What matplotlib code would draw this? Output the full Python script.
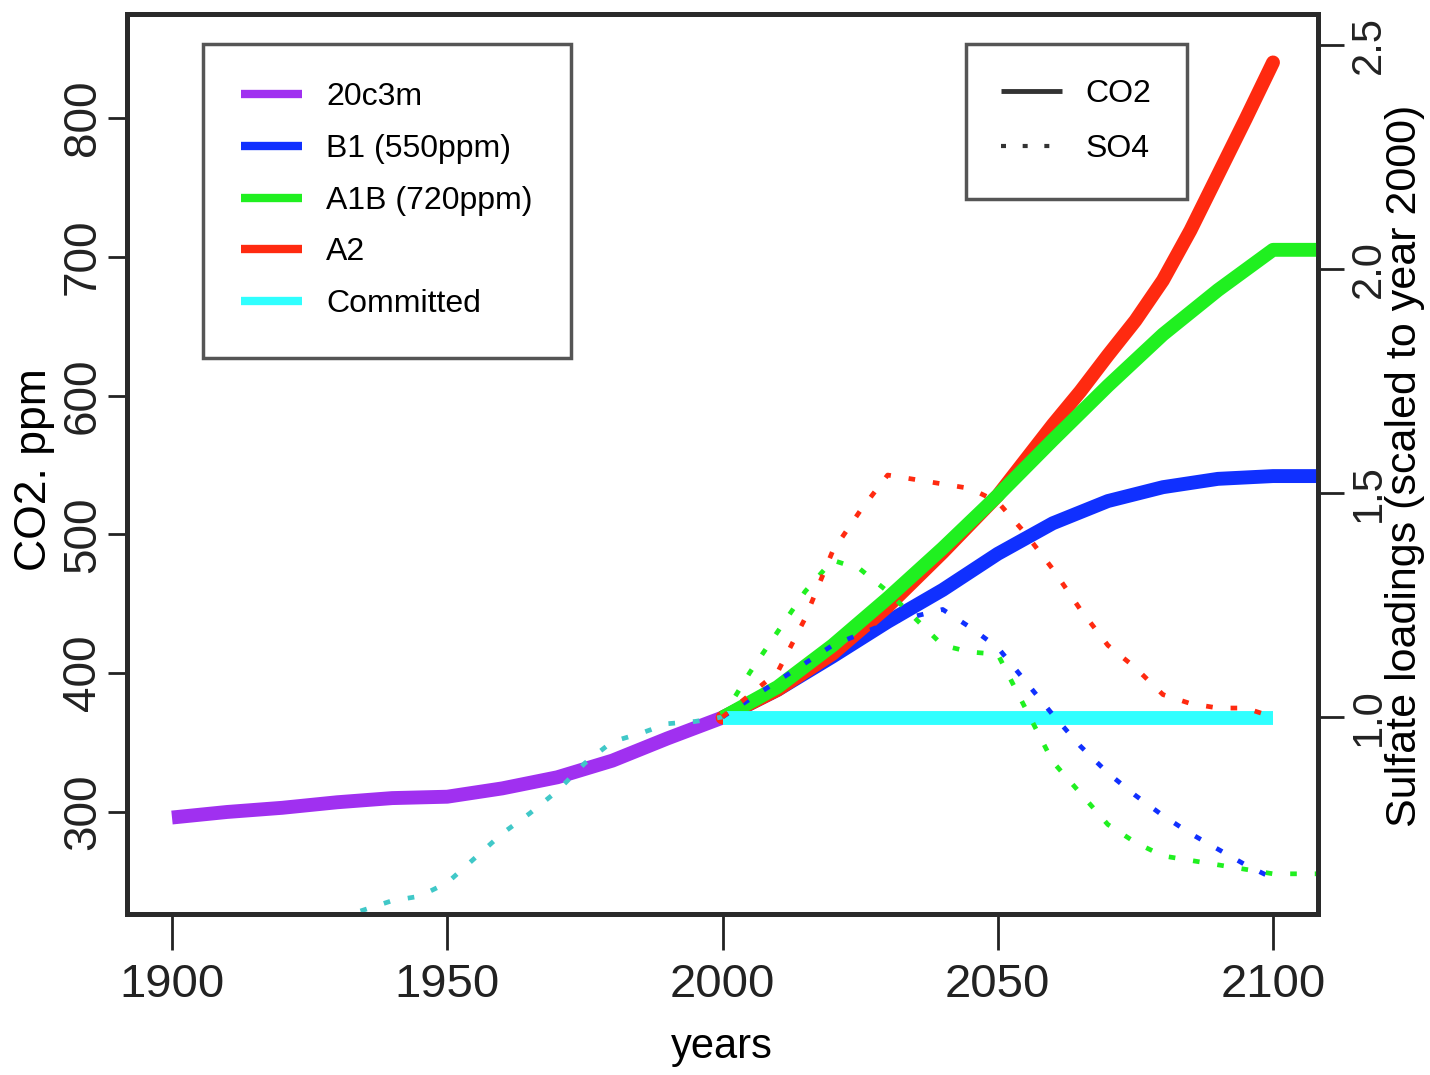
import matplotlib
matplotlib.use("Agg")
import matplotlib.pyplot as plt
from matplotlib.lines import Line2D

plt.rcParams['font.family'] = ['Liberation Sans', 'DejaVu Sans']

# ---------------- data ----------------
years_20c = [1900, 1910, 1920, 1930, 1940, 1950, 1960, 1970, 1980, 1990, 2000]
co2_20c3m = [296, 300, 303, 307, 310, 311, 317, 325, 337, 353, 368]

years_scen = [2000, 2010, 2020, 2030, 2040, 2050, 2060, 2070, 2080, 2090, 2100, 2110]
co2_b1 = [368, 388, 412, 437, 460, 486, 508, 524, 534, 540, 542, 542]
co2_a1b = [368, 390, 420, 454, 490, 528, 568, 607, 644, 676, 705, 705]
years_a2 = [2000, 2010, 2020, 2030, 2040, 2050, 2060, 2065, 2070, 2075, 2080,
            2085, 2090, 2095, 2100]
co2_a2 = [368, 388, 414, 448, 487, 528, 579, 603, 629, 654, 683, 719, 759, 799, 840]
years_comm = [2000, 2100]
co2_comm = [368, 368]

years_so4_20c = [1930, 1935, 1940, 1945, 1950, 1955, 1960, 1965, 1970, 1975,
                 1980, 1985, 1990, 1995, 2000]
so4_20c3m = [0.55, 0.57, 0.59, 0.60, 0.63, 0.685, 0.74, 0.785, 0.835, 0.897,
             0.945, 0.963, 0.985, 0.99, 1.0]

years_so4_a2 = [2000, 2005, 2010, 2015, 2020, 2025, 2030, 2035, 2040, 2045, 2050,
                2055, 2060, 2065, 2070, 2075, 2080, 2085, 2090, 2095, 2100]
so4_a2 = [1.0, 1.05, 1.10, 1.22, 1.37, 1.46, 1.54, 1.53, 1.52, 1.51, 1.48,
          1.41, 1.33, 1.24, 1.16, 1.11, 1.05, 1.03, 1.02, 1.02, 1.0]

years_so4_a1b = [2000, 2005, 2010, 2015, 2020, 2025, 2030, 2035, 2040, 2045, 2050,
                 2055, 2060, 2065, 2070, 2075, 2080, 2085, 2090, 2095, 2100, 2110]
so4_a1b = [1.0, 1.10, 1.19, 1.28, 1.35, 1.33, 1.28, 1.22, 1.16, 1.145, 1.14,
           1.02, 0.90, 0.83, 0.76, 0.72, 0.69, 0.68, 0.67, 0.66, 0.65, 0.65]

years_so4_b1 = [2000, 2010, 2020, 2030, 2040, 2045, 2050, 2055, 2060, 2065, 2070,
                2075, 2080, 2085, 2090, 2095, 2100]
so4_b1 = [1.0, 1.08, 1.16, 1.21, 1.24, 1.20, 1.155, 1.08, 1.005, 0.935, 0.875,
          0.825, 0.78, 0.74, 0.705, 0.67, 0.64]

x_ticks = [1900, 1950, 2000, 2050, 2100]
y_ticks = [300, 400, 500, 600, 700, 800]
y2_ticks = [1.0, 1.5, 2.0, 2.5]
y2_ticklabels = ["1.0", "1.5", "2.0", "2.5"]

scen_labels = ["20c3m", "B1 (550ppm)", "A1B (720ppm)", "A2", "Committed"]
scen_colors = ["#a030f0", "#1030ff", "#20f020", "#ff2a10", "#30ffff"]
so4_20c_color = "#40c8c8"

# ---------------- figure ----------------
fig = plt.figure(figsize=(14.3, 10.75), dpi=100)
ax = fig.add_axes([127/1430, 1-914/1075, 1191/1430, 900/1075])
ax2 = ax.twinx()

LW = 10
ax.plot(years_20c, co2_20c3m, color=scen_colors[0], lw=LW, solid_capstyle='butt', zorder=2)
ax.plot(years_scen, co2_b1, color=scen_colors[1], lw=LW, solid_capstyle='butt', zorder=3)
ax.plot(years_a2, co2_a2, color=scen_colors[3], lw=LW, solid_capstyle='round', zorder=4)
ax.plot(years_scen, co2_a1b, color=scen_colors[2], lw=LW, solid_capstyle='butt', zorder=5)
ax.plot(years_comm, co2_comm, color=scen_colors[4], lw=LW, solid_capstyle='butt', zorder=6)

DOT = dict(lw=3.4, linestyle=(0, (1.4, 3.8)), dash_capstyle='butt')
ax2.plot(years_so4_20c, so4_20c3m, color=so4_20c_color, **DOT)
ax2.plot(years_so4_b1, so4_b1, color=scen_colors[1], **DOT)
ax2.plot(years_so4_a1b, so4_a1b, color=scen_colors[2], **DOT)
ax2.plot(years_so4_a2, so4_a2, color=scen_colors[3], **DOT)

ax.set_xlim(1891.83, 2108.17)
ax.set_ylim(226.5, 874.9)
ax2.set_ylim(0.5603, 2.569)

ax.set_xticks(x_ticks)
ax.set_xticklabels([str(v) for v in x_ticks], fontsize=34)
ax.set_yticks(y_ticks)
ax.set_yticklabels([str(v) for v in y_ticks], fontsize=33, rotation=90, va='center')
ax2.set_yticks(y2_ticks)
ax2.set_yticklabels(y2_ticklabels, fontsize=30, rotation=90, va='center')

ax.tick_params(axis='x', length=26, width=2, pad=9, colors='#222')
ax.tick_params(axis='y', length=14, width=2, pad=2, colors='#222')
ax2.tick_params(axis='y', length=19, width=2, pad=3, colors='#222')

for a in (ax, ax2):
    for s in a.spines.values():
        s.set_linewidth(3.5)
        s.set_color('#2a2a2a')

ax.set_xlabel("years", fontsize=30)
ax.xaxis.label.set_verticalalignment('center')
ax.xaxis.set_label_coords((722-127)/1191, (914-1047)/900)

ax.set_ylabel("CO2. ppm", fontsize=32)
ax.yaxis.label.set_verticalalignment('center')
ax.yaxis.set_label_coords((35-127)/1191, (914-470)/900)

ax2.set_ylabel("Sulfate loadings (scaled to year 2000)", fontsize=31)
ax2.yaxis.label.set_verticalalignment('center')
ax2.yaxis.set_label_coords((1405-127)/1191, (914-466)/900)

# legends
h1 = [Line2D([], [], color=c, lw=6, solid_capstyle='butt') for c in scen_colors]
leg1 = ax2.legend(h1, scen_labels, loc='upper left',
                  bbox_to_anchor=((203-127)/1191, (914-44)/900),
                  fontsize=23, handlelength=1.9, handletextpad=0.75,
                  labelspacing=0.68, borderpad=1.2, borderaxespad=0,
                  fancybox=False, framealpha=1, edgecolor='#555')
leg1.get_frame().set_linewidth(2.5)
ax2.add_artist(leg1)

h2 = [Line2D([], [], color='#333', lw=3.5, solid_capstyle='butt'),
      Line2D([], [], color='#333', lw=3.0, linestyle=(0, (1.2, 4.0)), dash_capstyle='butt')]
leg2 = ax2.legend(h2, ["CO2", "SO4"], loc='upper left',
                  bbox_to_anchor=((966-127)/1191, (914-44)/900),
                  fontsize=23, handlelength=1.9, handletextpad=0.75,
                  labelspacing=0.78, borderpad=1.1, borderaxespad=0,
                  fancybox=False, framealpha=1, edgecolor='#555')
leg2.get_frame().set_linewidth(2.5)

fig.savefig("out.png", dpi=100)
